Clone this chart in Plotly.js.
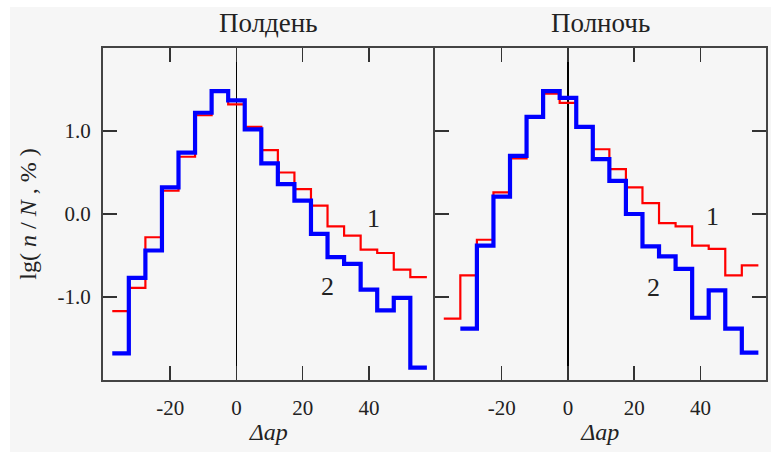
<!DOCTYPE html>
<html>
<head>
<meta charset="utf-8">
<script src="https://cdn.plot.ly/plotly-3.0.1.min.js"></script>
<style>
html,body{margin:0;padding:0;background:#ffffff;width:771px;height:452px;overflow:hidden;}
#chart{position:absolute;left:10px;top:7px;width:761px;height:445px;}
</style>
</head>
<body>
<div id="chart"></div>
<script>
// Bin centres of Δap (bin width 5)
const binCenters = [-35,-30,-25,-20,-15,-10,-5,0,5,10,15,20,25,30,35,40,45,50,55];
const binWidth = 5;
// Полдень (noon)
const noonSeries1 = [-1.17,-0.89,-0.28,0.28,0.69,1.19,1.47,1.32,1.05,0.77,0.50,0.30,0.10,-0.15,-0.26,-0.43,-0.47,-0.67,-0.76];
const noonSeries2 = [-1.68,-0.77,-0.44,0.32,0.74,1.22,1.48,1.37,1.02,0.61,0.36,0.16,-0.24,-0.52,-0.60,-0.91,-1.16,-1.01,-1.85];
// Полночь (midnight)
const nightSeries1 = [-1.26,-0.74,-0.31,0.26,0.67,1.17,1.45,1.34,1.05,0.78,0.54,0.32,0.13,-0.11,-0.15,-0.38,-0.42,-0.74,-0.62];
const nightSeries2 = [null,-1.38,-0.38,0.21,0.70,1.17,1.48,1.40,1.05,0.66,0.40,0.00,-0.39,-0.51,-0.66,-1.25,-0.92,-1.38,-1.67];

const panelTitles = ['Полдень','Полночь'];
const xTickVals = [-20,0,20,40];
const xTickText = ['-20','0','20','40'];
const yTickVals = [-1,0,1];
const yTickText = ['-1.0','0.0','1.0'];
const curveLabels = ['1','2'];

// step helpers: left edges plus final right edge
function stepX(c){ const e=c.map(v=>v-binWidth/2); e.push(c[c.length-1]+binWidth/2); return e; }
function stepY(v){ const o=v.slice(); o.push(v[v.length-1]); return o; }

const serif = '"Liberation Serif", "Times New Roman", serif';
const RED = '#ff0000', BLUE = '#0000ff';

function tr(vals, color, width, xa, ya){
  return {x: stepX(binCenters), y: stepY(vals), type:'scatter', mode:'lines',
    line:{shape:'hv', color:color, width:width}, connectgaps:false,
    xaxis:xa, yaxis:ya, hoverinfo:'skip', showlegend:false};
}

const data = [
  tr(noonSeries1, RED, 2.2, 'x', 'y'),
  tr(noonSeries2, BLUE, 4.2, 'x', 'y'),
  tr(nightSeries1, RED, 2.2, 'x2', 'y2'),
  tr(nightSeries2, BLUE, 4.2, 'x2', 'y2')
];

const xBase = {
  range:[-40.3,59.8], tickvals:xTickVals, ticktext:xTickText,
  ticks:'inside', ticklen:14, tickwidth:1.5, tickcolor:'#333',
  showline:true, linecolor:'#444', linewidth:2, mirror:'ticks',
  showgrid:false, zeroline:true, zerolinecolor:'#000', zerolinewidth:1.3,
  tickfont:{family:serif, size:21, color:'#222'}, ticklabelstandoff:8,
  title:{text:'<i>Δap</i>', font:{family:serif, size:24, color:'#222'}, standoff:4}
};
const yBase = {
  range:[-2,2], tickvals:yTickVals, ticktext:yTickText,
  ticks:'inside', ticklen:14, tickwidth:1.5, tickcolor:'#333',
  showline:true, linecolor:'#444', linewidth:2,
  showgrid:false, zeroline:false,
  tickfont:{family:serif, size:21, color:'#222'}
};

const layout = {
  paper_bgcolor:'#f6f6f6', plot_bgcolor:'#f6f6f6',
  margin:{l:93, r:5, t:41, b:72},
  width:761, height:445,
  xaxis: Object.assign({}, xBase, {domain:[0,0.5], anchor:'y'}),
  xaxis2: Object.assign({}, xBase, {domain:[0.5,1], anchor:'y2'}),
  yaxis: Object.assign({}, yBase, {domain:[0,1], anchor:'x', mirror:false, ticklabelstandoff:6,
    title:{text:'lg( <i>n</i> / <i>N</i> , % )', font:{family:serif, size:24, color:'#222'}, standoff:14}}),
  yaxis2: Object.assign({}, yBase, {domain:[0,1], anchor:'x2', mirror:'ticks', showticklabels:false}),
  annotations: [
    {text:panelTitles[0], xref:'x domain', yref:'paper', x:0.5, y:1, yshift:8, yanchor:'bottom', showarrow:false, font:{family:serif, size:27, color:'#222'}},
    {text:panelTitles[1], xref:'x2 domain', yref:'paper', x:0.5, y:1, yshift:8, yanchor:'bottom', showarrow:false, font:{family:serif, size:27, color:'#222'}},
    {text:curveLabels[0], xref:'x', yref:'y', x:41.3, y:-0.06, showarrow:false, font:{family:serif, size:26, color:'#222'}},
    {text:curveLabels[1], xref:'x', yref:'y', x:27.6, y:-0.87, showarrow:false, font:{family:serif, size:26, color:'#222'}},
    {text:curveLabels[0], xref:'x2', yref:'y2', x:43.7, y:-0.03, showarrow:false, font:{family:serif, size:26, color:'#222'}},
    {text:curveLabels[1], xref:'x2', yref:'y2', x:25.8, y:-0.89, showarrow:false, font:{family:serif, size:26, color:'#222'}}
  ]
};

Plotly.newPlot('chart', data, layout, {displayModeBar:false, staticPlot:true});
</script>
</body>
</html>
